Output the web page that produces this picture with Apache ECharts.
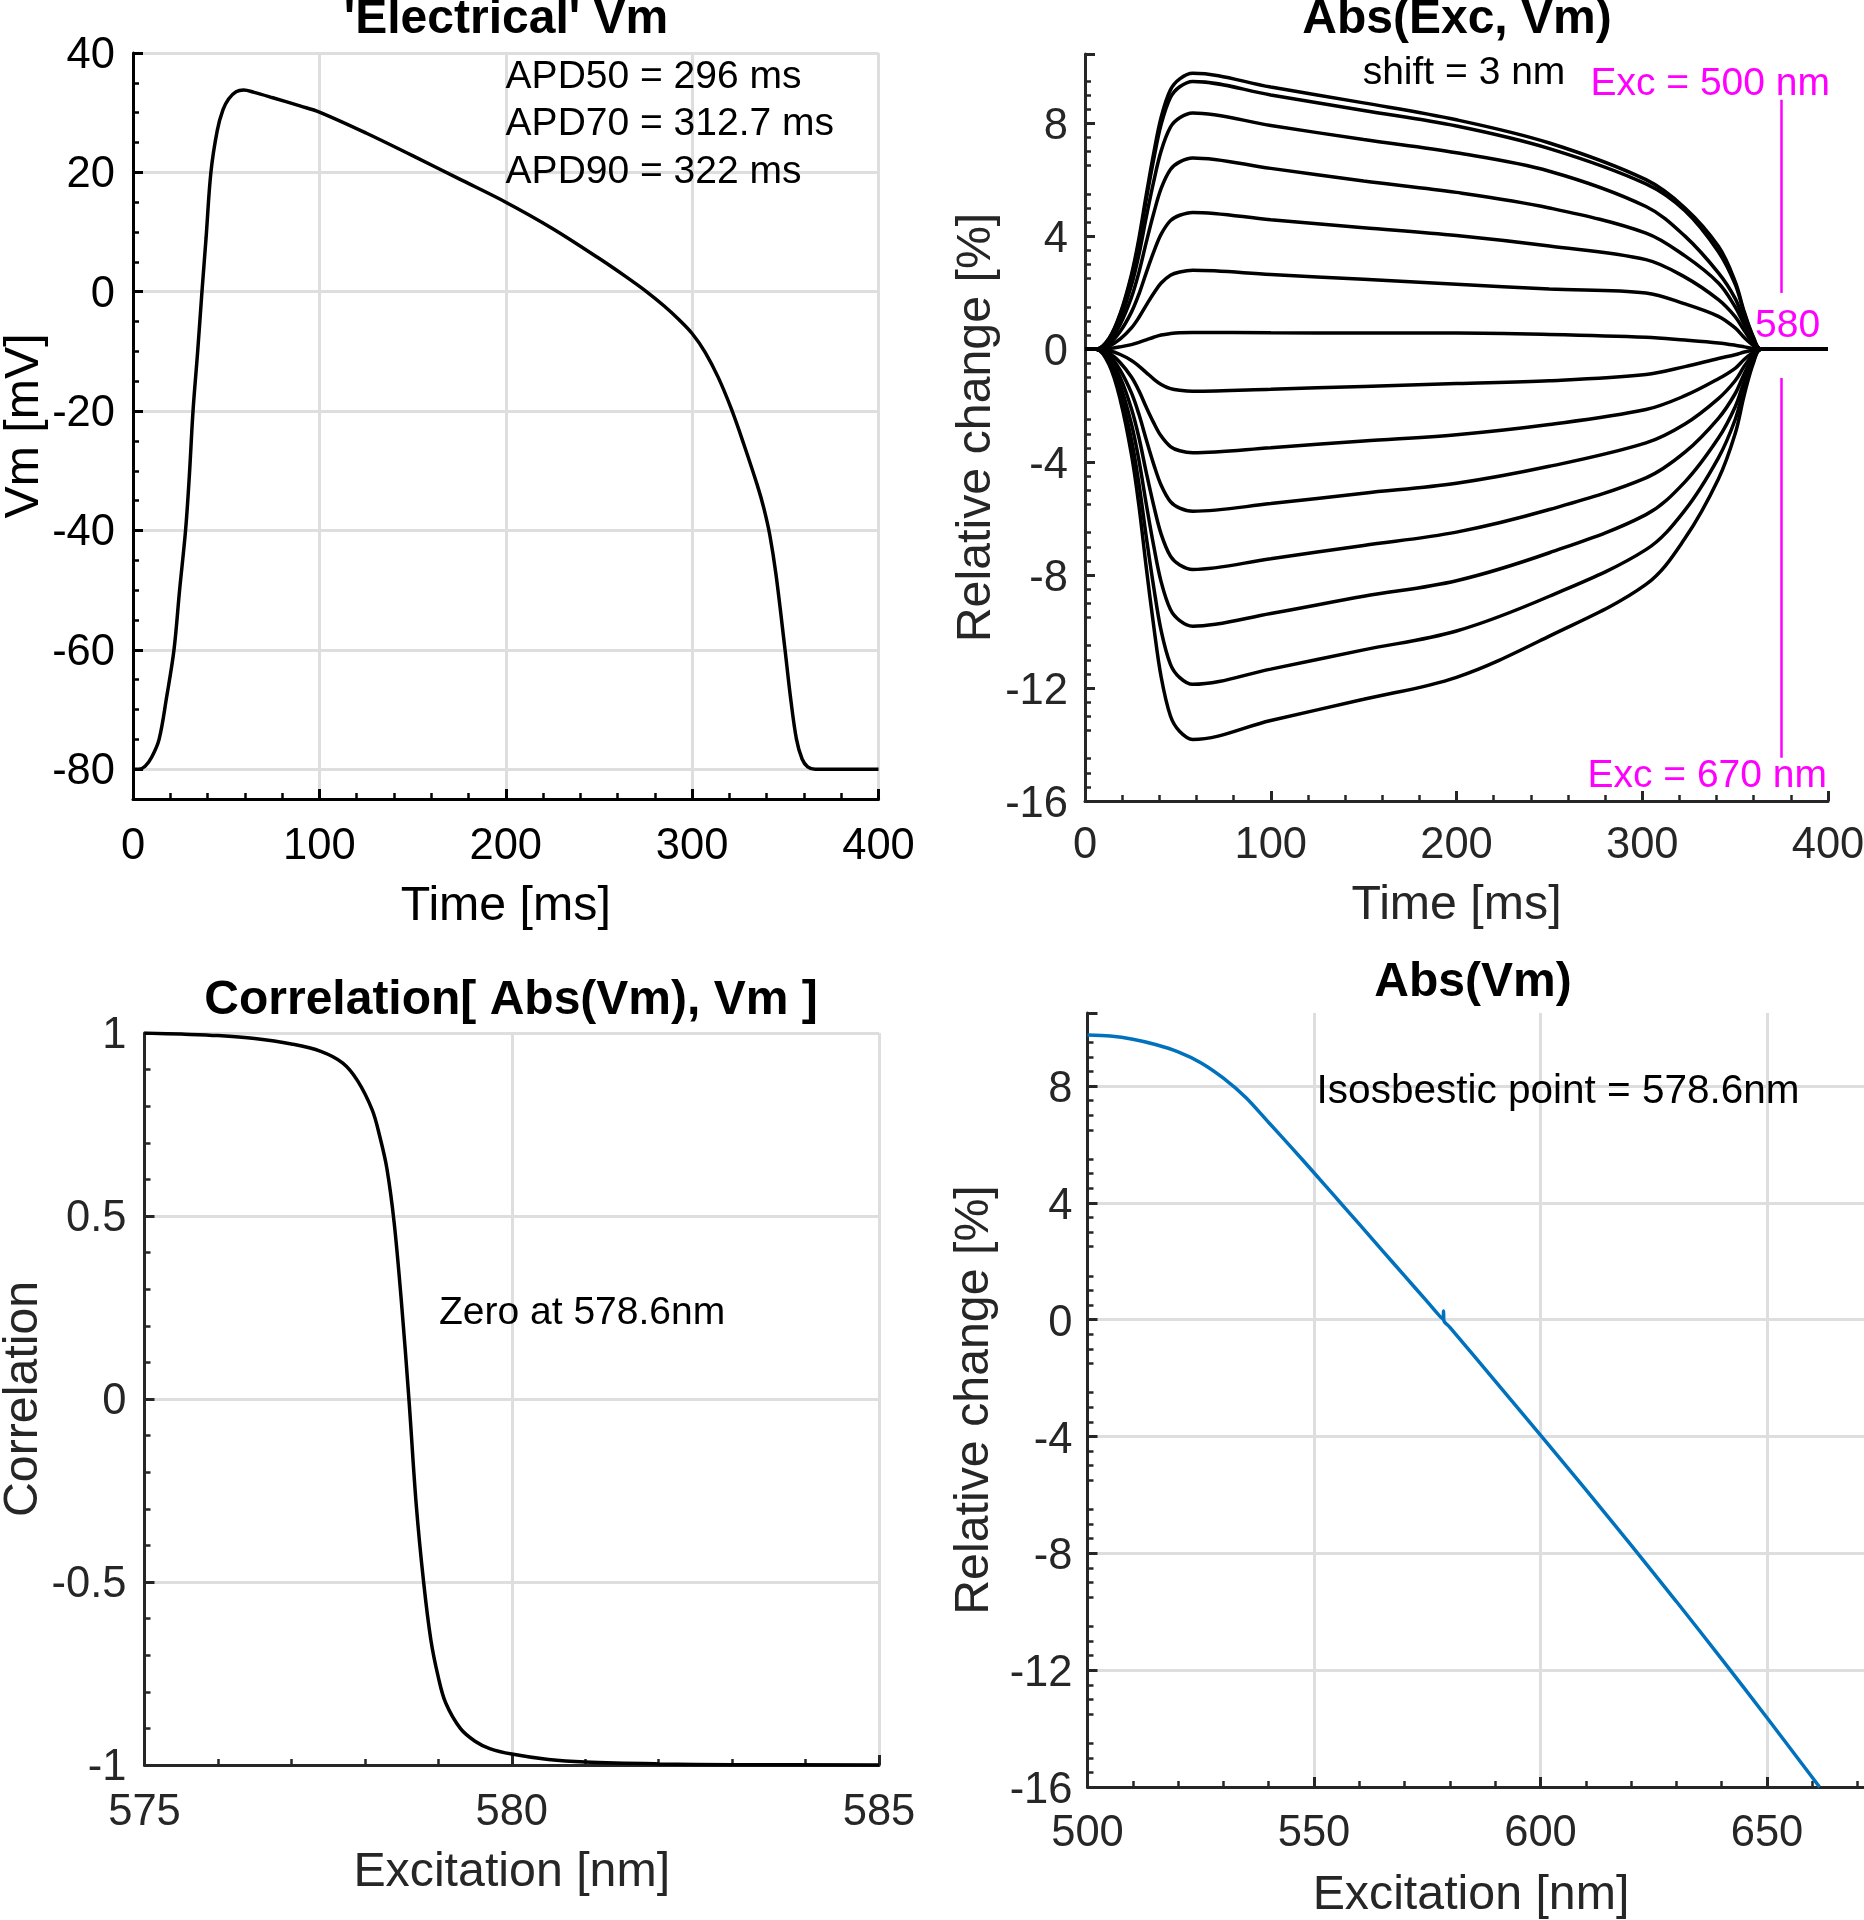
<!DOCTYPE html>
<html>
<head>
<meta charset="utf-8">
<script src="https://cdn.jsdelivr.net/npm/echarts@6/dist/echarts.min.js"></script>
<style>
html,body{margin:0;padding:0;background:#ffffff;}
#chart{width:1864px;height:1920px;}
</style>
</head>
<body>
<div id="chart"></div>
<script>
// ---------------- DATA ----------------
// Panel 1: 'Electrical' Vm
const vmTime = [0, 3, 6.5, 10, 14, 18, 22, 25, 28.2, 30.2, 32.2, 34.7, 37, 39.2, 41.8, 45.2, 48.3, 51.3, 55.3, 59.4, 65, 75, 90, 100, 125, 150, 175, 200, 225, 250, 265, 276, 285, 293, 300, 307, 314, 321, 328, 335, 338.5, 341.7, 345, 349.7, 353, 356, 359, 362, 366, 372, 400];
const vmValues = [-80, -80, -79.5, -78, -75, -68, -60, -50, -40, -31, -20, -10, 0, 9, 20, 27, 30.5, 32.3, 33.5, 33.8, 33.4, 32.5, 31.1, 30.1, 26.6, 22.8, 18.9, 15.0, 10.6, 5.6, 2.4, -0.1, -2.4, -4.7, -7.0, -10.15, -14.35, -19.6, -25.8, -32.45, -36.3, -40.8, -47.4, -59.6, -68.5, -75, -78.3, -79.6, -80, -80, -80];
const vmTicks = [-80, -60, -40, -20, 0, 20, 40];
const timeTicks = [0, 100, 200, 300, 400];
const apdLabels = ['APD50 = 296 ms', 'APD70 = 312.7 ms', 'APD90 = 322 ms'];

// Panel 2: Abs(Exc, Vm) - one trace per excitation wavelength (500 nm at top ... 670 nm at bottom)
const absTime = [0, 6, 13, 19, 25, 29, 33, 37, 41, 46, 51, 58, 100, 150, 200, 250, 302, 323, 341, 350, 355, 360, 364, 400];
const absTrace01 = [0, 0, 0.39, 1.27, 2.64, 3.91, 5.47, 6.94, 8.21, 9.18, 9.57, 9.77, 9.28, 8.72, 8.12, 7.3, 6.0, 5.0, 3.64, 2.4, 1.3, 0.4, 0, 0];
const absTrace02 = [0, 0, 0.38, 1.23, 2.56, 3.79, 5.31, 6.73, 7.96, 8.91, 9.29, 9.48, 9.0, 8.45, 7.9, 7.1, 5.85, 4.9, 3.45, 2.3, 1.25, 0.38, 0, 0];
const absTrace03 = [0, 0, 0.33, 1.09, 2.26, 3.34, 4.68, 5.94, 7.02, 7.86, 8.19, 8.36, 7.92, 7.42, 6.95, 6.3, 5.05, 4.0, 2.7, 1.8, 1.0, 0.3, 0, 0];
const absTrace04 = [0, 0, 0.27, 0.88, 1.83, 2.71, 3.79, 4.81, 5.69, 6.36, 6.63, 6.77, 6.4, 5.95, 5.55, 5.0, 4.11, 3.3, 2.34, 1.5, 0.85, 0.25, 0, 0];
const absTrace05 = [0, 0, 0.19, 0.63, 1.31, 1.94, 2.71, 3.44, 4.07, 4.55, 4.74, 4.84, 4.58, 4.3, 4.02, 3.65, 3.17, 2.55, 1.75, 1.15, 0.65, 0.2, 0, 0];
const absTrace06 = [0, 0, 0.11, 0.36, 0.75, 1.12, 1.56, 1.98, 2.34, 2.62, 2.73, 2.79, 2.64, 2.47, 2.3, 2.13, 1.99, 1.6, 1.16, 0.75, 0.4, 0.12, 0, 0];
const absTrace07 = [0, 0, 0.02, 0.08, 0.16, 0.24, 0.33, 0.42, 0.5, 0.55, 0.58, 0.59, 0.58, 0.57, 0.57, 0.52, 0.42, 0.32, 0.22, 0.14, 0.08, 0.02, 0, 0];
const absTrace08 = [0, 0, -0.06, -0.19, -0.4, -0.6, -0.83, -1.06, -1.25, -1.4, -1.46, -1.49, -1.42, -1.32, -1.22, -1.12, -0.9, -0.62, -0.33, -0.2, -0.1, -0.03, 0, 0];
const absTrace09 = [0, 0, -0.15, -0.48, -0.99, -1.47, -2.06, -2.61, -3.08, -3.45, -3.6, -3.67, -3.49, -3.25, -3.03, -2.67, -2.14, -1.65, -1.05, -0.68, -0.36, -0.1, 0, 0];
const absTrace10 = [0, 0, -0.23, -0.75, -1.55, -2.3, -3.21, -4.08, -4.82, -5.4, -5.63, -5.74, -5.47, -5.1, -4.75, -4.15, -3.32, -2.65, -1.75, -1.12, -0.6, -0.18, 0, 0];
const absTrace11 = [0, 0, -0.31, -1.01, -2.11, -3.12, -4.37, -5.54, -6.55, -7.33, -7.64, -7.8, -7.42, -6.95, -6.48, -5.68, -4.56, -3.65, -2.45, -1.58, -0.86, -0.25, 0, 0];
const absTrace12 = [0, 0, -0.39, -1.28, -2.65, -3.92, -5.49, -6.97, -8.24, -9.22, -9.61, -9.81, -9.36, -8.75, -8.2, -7.21, -5.86, -4.7, -3.15, -2.05, -1.12, -0.32, 0, 0];
const absTrace13 = [0, 0, -0.47, -1.54, -3.2, -4.75, -6.65, -8.43, -9.97, -11.16, -11.63, -11.87, -11.33, -10.65, -9.98, -8.75, -7.1, -5.7, -3.85, -2.5, -1.35, -0.4, 0, 0];
const absTrace14 = [0, 0, -0.55, -1.8, -3.73, -5.53, -7.74, -9.81, -11.61, -12.99, -13.54, -13.82, -13.15, -12.4, -11.62, -10.16, -8.33, -6.7, -4.6, -3.0, -1.6, -0.46, 0, 0];
const absTraces = [absTrace01, absTrace02, absTrace03, absTrace04, absTrace05, absTrace06, absTrace07,
                   absTrace08, absTrace09, absTrace10, absTrace11, absTrace12, absTrace13, absTrace14];
const relTicks = [-16, -12, -8, -4, 0, 4, 8];
const markerTime = 375;
const markerUpper = [8.83, 1.99];
const markerLower = [-1.02, -14.47];

// Panel 3: Correlation[ Abs(Vm), Vm ]
const corrExcitation = [575, 575.5, 576, 576.5, 577, 577.4, 577.7, 577.9, 578.1, 578.2, 578.3, 578.4, 578.5, 578.6, 578.7, 578.8, 578.9, 579, 579.1, 579.3, 579.5, 579.7, 580, 580.5, 581, 582, 583, 585];
const corrValues = [1.0, 0.997, 0.993, 0.985, 0.97, 0.95, 0.918, 0.87, 0.79, 0.72, 0.63, 0.48, 0.26, 0.0, -0.29, -0.5, -0.66, -0.76, -0.83, -0.9, -0.935, -0.955, -0.97, -0.985, -0.992, -0.997, -0.999, -1.0];
const corrTicks = [-1, -0.5, 0, 0.5, 1];
const corrExcTicks = [575, 580, 585];

// Panel 4: Abs(Vm)
const isoExcitation = [500, 505, 510, 515, 520, 525, 530, 535, 540, 545, 550, 555, 560, 565, 570, 575, 578.5, 578.6, 578.65, 580, 590, 600, 610, 620, 630, 640, 650, 661.6];
const isoValues = [9.75, 9.71, 9.6, 9.42, 9.17, 8.8, 8.27, 7.6, 6.75, 5.9, 5.03, 4.15, 3.27, 2.38, 1.5, 0.62, 0.02, 0.3, -0.02, -0.26, -2.1, -3.95, -5.82, -7.72, -9.65, -11.62, -13.63, -16];
const isoExcTicks = [500, 550, 600, 650];

// ---------------- STYLE / LAYOUT ----------------
const F = "'Liberation Sans', Arial, Helvetica, sans-serif";
const BLACK = '#000000';
const DARK = '#262626';
const GRIDC = '#DEDEDE';
const MAG = '#FF00FF';
const BLUE = '#0072BD';
const TICKFS = 43.5, NAMEFS = 48.3, TITLEFS = 48, NOTEFS = 39;

const G1 = {left: 133, top: 53, width: 745.5, height: 746};
const G2 = {left: 1085, top: 54, width: 743, height: 747};
const G3 = {left: 144.5, top: 1033, width: 734.5, height: 732};
const G4 = {left: 1087.5, top: 1013, width: 906, height: 774};
const P1MAX = 40, P1MIN = -85;
const P2MAX = 10.45, P4MAX = 10.5;

function gridOf(g) {
  return {left: g.left, top: g.top, width: g.width, height: g.height, containLabel: false, outerBoundsMode: 'none'};
}
// helper grids used only for minor ticks over the "nice" part of an axis
const G1h = {left: G1.left, top: G1.top, width: G1.width, height: G1.height * (P1MAX + 80) / (P1MAX - P1MIN)};
const G2h = {left: G2.left, top: G2.top + G2.height * (P2MAX - 10) / (P2MAX + 16), width: G2.width, height: G2.height * 26 / (P2MAX + 16)};
const G4h = {left: G4.left, top: G4.top + G4.height * (P4MAX - 10) / (P4MAX + 16), width: G4.width, height: G4.height * 26 / (P4MAX + 16)};

function valueAxis(o) {
  const c = o.color;
  const label = {show: true, color: c, fontSize: TICKFS, fontFamily: F, margin: o.margin, formatter: o.formatter};
  if (o.shift) { label.verticalAlign = 'top'; label.lineHeight = 2 * o.shift; }
  return {
    type: 'value', gridIndex: o.grid, min: o.min, max: o.max,
    interval: o.interval, minInterval: o.minInterval, maxInterval: o.maxInterval,
    name: o.name, nameLocation: 'middle', nameGap: o.nameGap,
    nameTextStyle: {color: c, fontSize: NAMEFS, fontFamily: F},
    axisLine: {show: true, onZero: false, lineStyle: {color: c, width: 3}},
    axisTick: {show: true, inside: true, length: 10, lineStyle: {color: c, width: 3}},
    minorTick: {show: !!o.minor, splitNumber: o.minor || 5, length: 6, lineStyle: {color: c, width: 2.5}},
    axisLabel: label,
    splitLine: {show: !!o.split, showMinLine: false, showMaxLine: o.showMax !== false, lineStyle: {color: GRIDC, width: 3}},
    silent: true
  };
}
function helperY(grid, min, max, interval, minor, color) {
  return {
    type: 'value', gridIndex: grid, min: min, max: max, interval: interval,
    axisLine: {show: false, onZero: false},
    axisTick: {show: false, inside: true},
    minorTick: {show: true, splitNumber: minor, length: 6, lineStyle: {color: color, width: 2.5}},
    axisLabel: {show: false},
    splitLine: {show: false}
  };
}
function hiddenX(grid, min, max) {
  return {type: 'value', gridIndex: grid, min: min, max: max, show: false};
}
const pick = (ticks) => (v) => (ticks.some(t => Math.abs(t - v) < 1e-6) ? String(v) : '');

function pairs(xs, ys) { return xs.map((x, i) => [x, ys[i]]); }

const series = [];
series.push({
  type: 'line', xAxisIndex: 0, yAxisIndex: 0, data: pairs(vmTime, vmValues),
  showSymbol: false, symbol: 'none', smooth: 0.35,
  lineStyle: {color: BLACK, width: 3.5}, silent: true
});
absTraces.forEach((tr, i) => {
  const s = {
    type: 'line', xAxisIndex: 2, yAxisIndex: 2, data: pairs(absTime, tr),
    showSymbol: false, symbol: 'none', smooth: 0.35,
    lineStyle: {color: BLACK, width: 3.5}, silent: true, z: 3
  };
  if (i === 0) {
    s.markLine = {
      silent: true, symbol: ['none', 'none'], label: {show: false},
      lineStyle: {color: MAG, width: 2.5, type: 'solid'},
      data: [
        [{coord: [markerTime, markerUpper[0]]}, {coord: [markerTime, markerUpper[1]]}],
        [{coord: [markerTime, markerLower[0]]}, {coord: [markerTime, markerLower[1]]}]
      ]
    };
  }
  series.push(s);
});
series.push({
  type: 'line', xAxisIndex: 4, yAxisIndex: 4, data: pairs(corrExcitation, corrValues),
  showSymbol: false, symbol: 'none', smooth: 0.35,
  lineStyle: {color: BLACK, width: 3.5}, silent: true
});
series.push({
  type: 'line', xAxisIndex: 5, yAxisIndex: 5, data: pairs(isoExcitation, isoValues),
  showSymbol: false, symbol: 'none', smooth: 0.3,
  lineStyle: {color: BLUE, width: 3.5}, silent: true
});

function txt(x, y, text, size, opts) {
  opts = opts || {};
  return {
    type: 'text', x: x, y: y, silent: true, z: 100,
    style: {
      text: text, fill: opts.fill || BLACK,
      font: (opts.bold ? 'bold ' : '') + size + 'px ' + F,
      align: opts.align || 'left', verticalAlign: 'middle',
      textAlign: opts.align || 'left', textVerticalAlign: 'middle'
    }
  };
}

const option = {
  backgroundColor: '#ffffff',
  animation: false,
  grid: [gridOf(G1), gridOf(G1h), gridOf(G2), gridOf(G2h), gridOf(G3), gridOf(G4), gridOf(G4h)],
  xAxis: [
    valueAxis({grid: 0, min: 0, max: 400, interval: 100, name: 'Time [ms]', nameGap: 83.5, color: BLACK, minor: 5, margin: 25.5, split: true, formatter: pick(timeTicks)}),
    hiddenX(1, 0, 400),
    valueAxis({grid: 2, min: 0, max: 400, interval: 100, name: 'Time [ms]', nameGap: 80.5, color: DARK, minor: 5, margin: 23, split: false, formatter: pick(timeTicks)}),
    hiddenX(3, 0, 400),
    valueAxis({grid: 4, min: 575, max: 585, interval: 5, name: 'Excitation [nm]', nameGap: 83.5, color: DARK, minor: 5, margin: 26, split: true, formatter: pick(corrExcTicks)}),
    valueAxis({grid: 5, min: 500, max: 700, interval: 50, name: '', nameGap: 80, color: DARK, minor: 5, margin: 25, split: true, formatter: pick(isoExcTicks)}),
    hiddenX(6, 500, 700)
  ],
  yAxis: [
    valueAxis({grid: 0, min: P1MIN, max: P1MAX, minInterval: 20, maxInterval: 20, name: 'Vm [mV]', nameGap: 84, color: BLACK, minor: 0, margin: 18, shift: 3, split: true, formatter: pick(vmTicks)}),
    helperY(1, -80, 40, 20, 4, BLACK),
    valueAxis({grid: 2, min: -16, max: P2MAX, minInterval: 4, maxInterval: 4, name: 'Relative change [%]', nameGap: 84.5, color: DARK, minor: 0, margin: 17, shift: 3.5, split: false, formatter: pick(relTicks)}),
    helperY(3, -16, 10, 2, 4, DARK),
    valueAxis({grid: 4, min: -1, max: 1, interval: 0.5, name: 'Correlation', nameGap: 95, color: DARK, minor: 5, margin: 18, shift: 2.5, split: true, formatter: pick(corrTicks)}),
    valueAxis({grid: 5, min: -16, max: P4MAX, minInterval: 4, maxInterval: 4, name: 'Relative change [%]', nameGap: 89, color: DARK, minor: 0, margin: 15, shift: 4, split: true, showMax: false, formatter: pick(relTicks)}),
    helperY(6, -16, 10, 2, 4, DARK)
  ],
  graphic: [
    txt(506, 20, "'Electrical' Vm", TITLEFS, {bold: true, align: 'center'}),
    txt(1457, 20, 'Abs(Exc, Vm)', TITLEFS, {bold: true, align: 'center'}),
    txt(511, 1001, 'Correlation[ Abs(Vm), Vm ]', TITLEFS, {bold: true, align: 'center'}),
    txt(1473, 983, 'Abs(Vm)', TITLEFS, {bold: true, align: 'center'}),
    txt(505.6, 77, apdLabels[0], NOTEFS),
    txt(505.6, 124.5, apdLabels[1], NOTEFS),
    txt(505.6, 172, apdLabels[2], NOTEFS),
    txt(1464, 73, 'shift = 3 nm', NOTEFS, {align: 'center'}),
    txt(1830, 84.7, 'Exc = 500 nm', NOTEFS, {align: 'right', fill: MAG}),
    txt(1755, 326.7, '580', NOTEFS, {fill: MAG}),
    txt(1827, 776.7, 'Exc = 670 nm', NOTEFS, {align: 'right', fill: MAG}),
    txt(439, 1313.5, 'Zero at 578.6nm', NOTEFS),
    txt(1316.6, 1092, 'Isosbestic point = 578.6nm', 40.5),
    txt(1471, 1895.5, 'Excitation [nm]', NAMEFS, {align: 'center', fill: DARK})
  ],
  series: series
};

const chart = echarts.init(document.getElementById('chart'), null, {renderer: 'canvas', width: 1864, height: 1920});
chart.setOption(option);
</script>
</body>
</html>
